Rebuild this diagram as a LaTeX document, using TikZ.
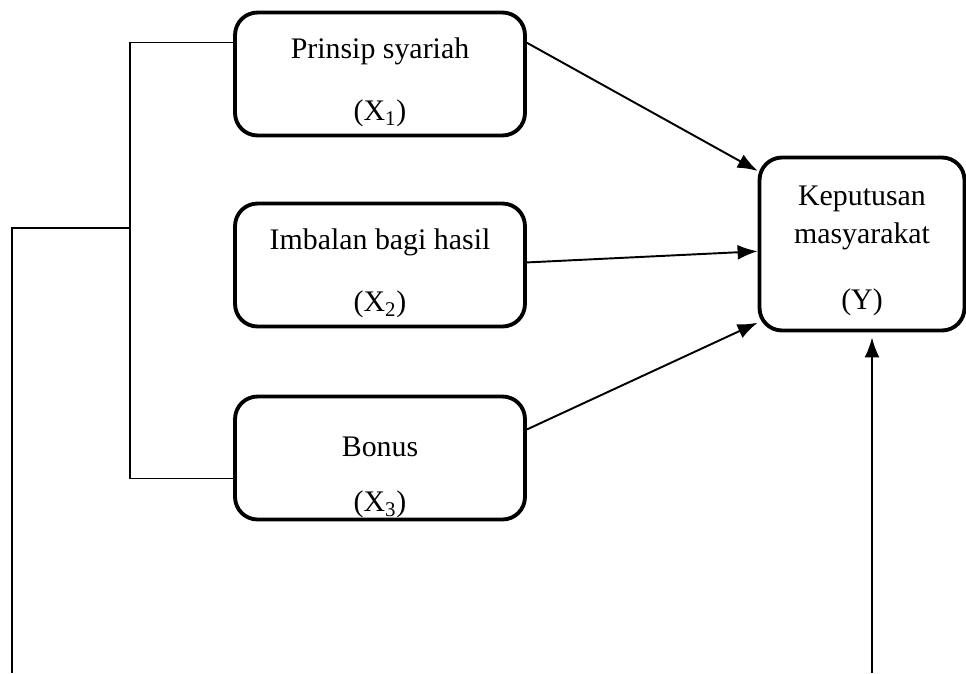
\documentclass[tikz,border=0pt]{standalone}
\usepackage{fontspec}
\setmainfont{Liberation Serif}
\usetikzlibrary{arrows.meta}

\begin{document}
\begin{tikzpicture}[x=0.02cm, y=-0.02cm,
    box/.style={draw, line width=2.2pt, rounded corners=0.45cm, align=center,
      font=\fontsize{17}{21}\selectfont, minimum width=5.8cm, minimum height=2.46cm, inner sep=0pt},
    link/.style={line width=1.1pt, -{Latex[length=0.4cm,width=0.3cm]}},
    brace/.style={line width=0.8pt}]
  \useasboundingbox (0,0) rectangle (966,673);
  \node[box] (x1) at (380,74) {\rule{0pt}{0.75cm}Prinsip syariah\\[0.5cm](X\textsubscript{1})};
  \node[box] (x2) at (380,265) {\rule{0pt}{0.75cm}Imbalan bagi hasil\\[0.5cm](X\textsubscript{2})};
  \node[box] (x3) at (380,458) {\rule{0pt}{1.17cm}Bonus\\[0.36cm](X\textsubscript{3})};
  \node[box, minimum width=4.1cm, minimum height=3.46cm, font=\fontsize{17}{22}\selectfont] (y) at (862,244)
    {\rule{0pt}{0.67cm}Keputusan\\masyarakat\\[0.55cm](Y)};
  \coordinate (jn) at (130,228);
  \coordinate (bl) at (12,673);
  \coordinate (br) at (872,673);
  % bracket on the left
  \draw[brace] (x1.168) -| (jn) |- (x3.188);
  \draw[brace] (jn) -| (bl);
  % arrows to Y
  \draw[link] (x1.12) -- (y.145);
  \draw[link] (x2.1) -- (y.184);
  \draw[link] (x3.11) -- (y.217);
  \draw[link, shorten >=0.1cm] (br) -- (br |- y.south);
\end{tikzpicture}
\end{document}
